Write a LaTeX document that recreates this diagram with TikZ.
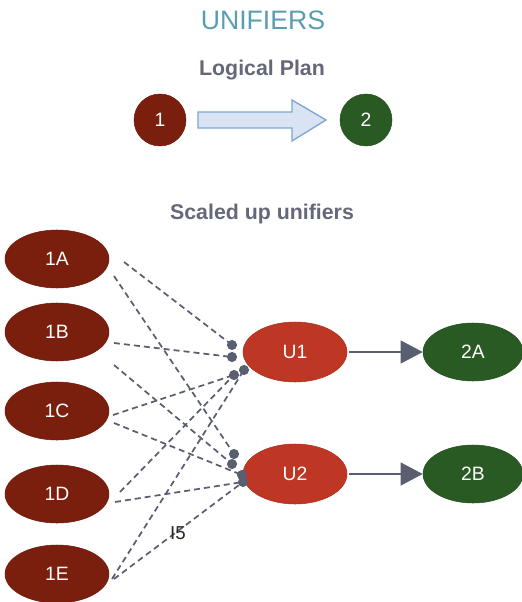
\documentclass[tikz,border=0pt]{standalone}
\usepackage{fontspec}
\setmainfont{Liberation Sans}
\usetikzlibrary{shapes.geometric,arrows.meta}

\definecolor{planred}{RGB}{122,30,14}
\definecolor{plangreen}{RGB}{42,90,35}
\definecolor{unired}{RGB}{190,54,36}
\definecolor{linkgray}{RGB}{90,95,112}
\definecolor{titleteal}{RGB}{88,158,176}
\definecolor{headgray}{RGB}{100,104,120}
\definecolor{arrowfill}{RGB}{218,227,243}
\definecolor{arrowdraw}{RGB}{126,166,208}

\tikzset{
  opnode/.style={ellipse, inner sep=0pt, text=white,
    font=\fontsize{14.5}{16}\selectfont},
  srcop/.style={opnode, fill=planred, draw=planred!90!black,
    minimum width=78pt, minimum height=43.5pt},
  uniop/.style={opnode, fill=unired, draw=unired!90!black,
    minimum width=78pt, minimum height=45pt},
  dstop/.style={opnode, fill=plangreen, draw=plangreen!90!black,
    minimum width=75pt, minimum height=43.5pt},
  heading/.style={text=headgray, font=\bfseries\fontsize{16}{18}\selectfont},
  link/.style={draw=linkgray, line width=1.3pt, dash pattern=on 4.5pt off 3pt},
  flow/.style={draw=linkgray, line width=1.6pt, shorten <=1.5pt,
    -{Triangle[length=16.5pt,width=17pt]}}
}

\begin{document}
\begin{tikzpicture}[x=0.75pt,y=-0.75pt]
        \useasboundingbox (0,0) rectangle (521,602);

        % the texts
        \node (title) at (263,20) {\fontsize{20}{24}\selectfont\color{titleteal}UNIFIERS};
        \node[heading] (plan) at (262,70) {Logical Plan};
        \node[heading] (scaled) at (262,214) {Scaled up unifiers};

        % logical plan: two operators and the big arrow
        \node[circle, srcop, minimum size=39pt] (c1) at (160,120) {1};
        \node[circle, dstop, minimum size=39pt] (c2) at (366,120) {2};
        \filldraw[fill=arrowfill, draw=arrowdraw, line width=1pt]
            (198,112) -- (292,112) -- (292,100) -- (326,120)
            -- (292,141) -- (292,128) -- (198,128) -- cycle;

        % the scaled up operators
        \node[srcop] (a1) at (57,259) {1A};
        \node[srcop] (a2) at (57,332) {1B};
        \node[srcop] (a3) at (57,411) {1C};
        \node[srcop] (a4) at (57,494) {1D};
        \node[srcop] (a5) at (57,574) {1E};
        \node[uniop] (u1) at (295,352) {U1};
        \node[uniop] (u2) at (295,474) {U2};
        \node[dstop] (b1) at (473,352) {2A};
        \node[dstop] (b2) at (473,474) {2B};

        % where the links leave the operators
        \coordinate (a1u) at (124,262);
        \coordinate (a1d) at (114,276);
        \coordinate (a2u) at (114,343);
        \coordinate (a2d) at (114,365);
        \coordinate (a3u) at (113,415);
        \coordinate (a3d) at (114,423);
        \coordinate (a4u) at (120,492);
        \coordinate (a4d) at (115,502);
        \coordinate (a5u) at (112,579);
        \coordinate (a5d) at (114,579);

        % where they end, next to the unifiers
        \coordinate (d1) at (232,345);
        \coordinate (d2) at (232,357);
        \coordinate (d3) at (234,375);
        \coordinate (d4) at (244,370);
        \coordinate (d5) at (234,454);
        \coordinate (d6) at (232,464);
        \coordinate (d7) at (242,475);
        \coordinate (d8) at (243,482);

        % draw the links
        \draw[link] (a1u) -- (d1);
        \draw[link] (a1d) -- (d5);
        \draw[link] (a2u) -- (d2);
        \draw[link] (a2d) -- (d6);
        \draw[link] (a3u) -- (d3);
        \draw[link] (a3d) -- (d7);
        \draw[link] (a4u) -- (d3);
        \draw[link] (a4d) -- (d8);
        \draw[link] (a5u) -- (d4);
        \draw[link] (a5d) -- (d8);

        \fill[linkgray] (d1) circle (3.8pt);
        \fill[linkgray] (d2) circle (3.8pt);
        \fill[linkgray] (d3) circle (3.8pt);
        \fill[linkgray] (d4) circle (3.8pt);
        \fill[linkgray] (d5) circle (3.8pt);
        \fill[linkgray] (d6) circle (3.8pt);
        \fill[linkgray] (d7) circle (3.8pt);
        \fill[linkgray] (d8) circle (3.8pt);

        \node[font=\fontsize{14}{16}\selectfont, text=black!85] (lbl) at (178,533) {I5};

        % draw the arrows
        \draw[flow] (u1) -- (b1);
        \draw[flow] (u2) -- (b2);

    \end{tikzpicture}
\end{document}
